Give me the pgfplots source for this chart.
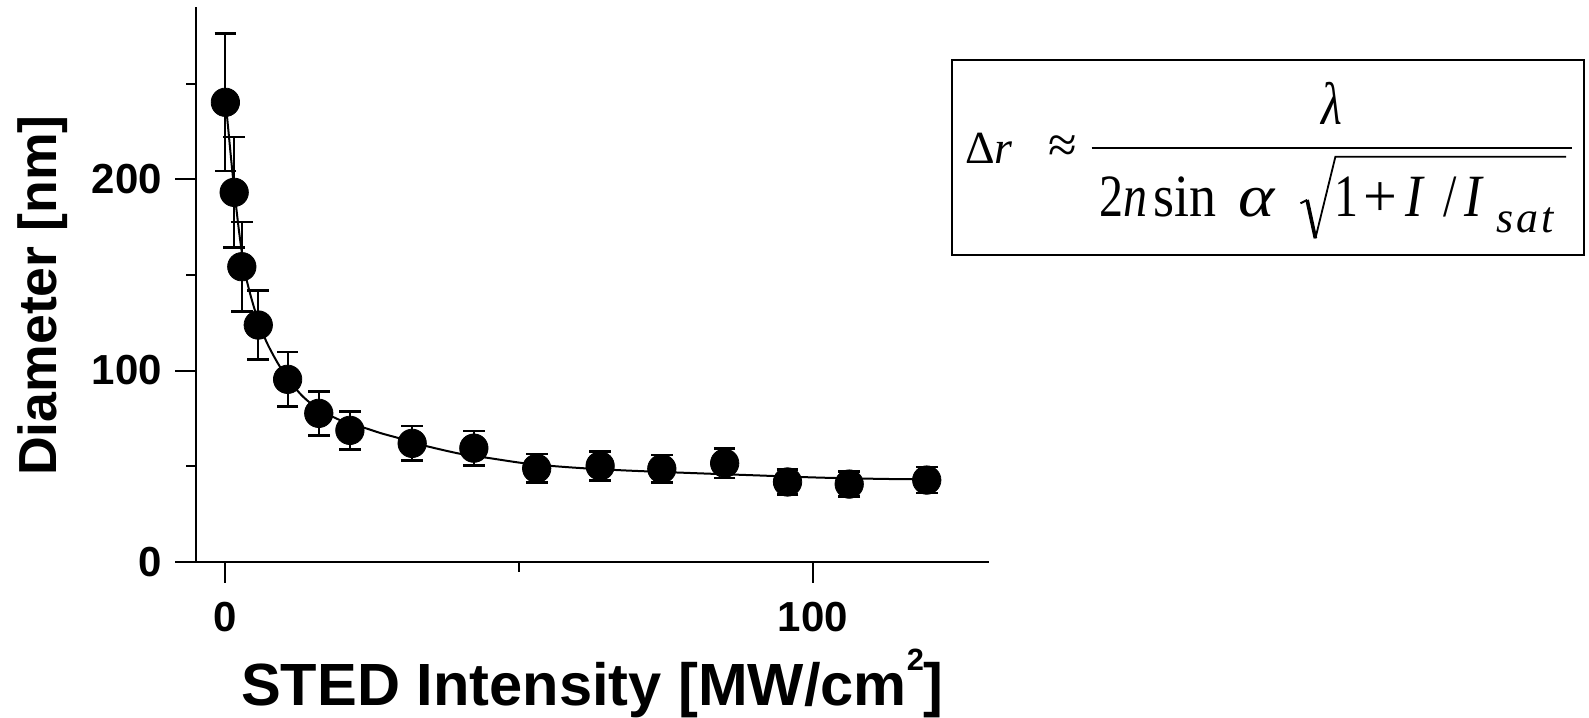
\documentclass[border=0pt]{standalone}
\usepackage{fontspec}
\setmainfont{Liberation Sans}
\newfontfamily\tms{Liberation Serif}
\usepackage{pgfplots}
\pgfplotsset{compat=1.18}
\newcommand\dn[2][0.8]{\scalebox{#1}[1]{\tms\fontsize{30}{30}\selectfont #2}}
\begin{document}
\begin{tikzpicture}
\useasboundingbox (0,0) rectangle (794.5pt,358.5pt);
\begin{axis}[
  at={(98pt,77.65pt)}, anchor=south west,
  scale only axis, width=396.5pt, height=277.2pt,
  xmin=-5, xmax=130, ymin=0, ymax=290,
  axis x line=bottom, axis y line=left,
  axis line style={-, line width=1pt},
  xtick={0,100}, minor xtick={50},
  ytick={0,100,200}, minor ytick={50,150,250},
  tick align=outside,
  major tick length=10.5pt, minor tick length=5pt,
  every tick/.style={black, line width=1pt},
  /pgf/number format/assume math mode=true,
  tick label style={font=\fontsize{21}{21}\selectfont\bfseries},
  xticklabel style={yshift=-6pt},
  yticklabel style={xshift=-3pt},
  every axis x label/.style={at={(axis description cs:0.5,-0.2585)}, anchor=base, inner sep=0pt, font=\fontsize{29.8}{29.8}\selectfont\bfseries},
  every axis y label/.style={at={(axis description cs:-0.1757,0.48)}, anchor=base, rotate=90, inner sep=0pt, font=\fontsize{26.8}{26.8}\selectfont\bfseries},
  xlabel={STED Intensity [MW/cm\raisebox{17.5pt}{\fontsize{15.4}{15.4}\selectfont 2}]},
  ylabel={Diameter [nm]},
  clip=false,
]
\addplot[no marks, black, line width=1pt, smooth] coordinates {
(0,242) (0.5,226) (1,210) (1.5,195) (2.2,176) (2.8,162) (3.5,149) (4.5,137)
(5.6,126) (7,115) (8.8,104.5) (10.6,96) (13,87) (15.9,79.5) (17.8,76.5)
(20.5,72.8) (23.4,70.3) (26.5,67.2) (29.7,64.5) (34.2,60.5) (40.2,56.3)
(44.7,54.3) (50.6,51.6) (55.5,50.1) (61.4,48.8) (69,47.6) (80,46.3)
(90,45.2) (101,44) (112,43.3) (119.4,43.1)
};
\addplot[only marks, mark=*, mark size=7.1pt, black,
  error bars/.cd, y dir=both, y explicit, error mark=|,
  error bar style={line width=1pt, black},
  error mark options={line width=1.3pt, mark size=5.4pt, black}]
coordinates {
(0,240.3) +- (0,36)
(1.5,193.2) +- (0,29)
(2.8,154.3) +- (0,23.3)
(5.6,123.8) +- (0,18)
(10.6,95.4) +- (0,14.2)
(15.9,77.6) +- (0,11.5)
(21.2,68.7) +- (0,10)
(31.8,61.9) +- (0,9)
(42.3,59.4) +- (0,9)
(53.0,48.8) +- (0,7.5)
(63.8,50.1) +- (0,7.7)
(74.3,48.6) +- (0,7.3)
(85.0,51.5) +- (0,7.8)
(95.7,41.7) +- (0,6.5)
(106.2,40.6) +- (0,6.6)
(119.4,42.7) +- (0,6.8)
};
\end{axis}
% formula box
\draw[line width=1pt] (475.85pt,231pt) rectangle (791.75pt,328.5pt);
\node[anchor=base west, inner sep=0pt] at (482.5pt,276.85pt) {\tms\fontsize{23}{23}\selectfont Δ\textit{r}};
\node[anchor=base west, inner sep=0pt] at (524pt,277.3pt) {\tms\fontsize{26}{26}\selectfont ≈};
\draw[line width=1.1pt] (545.85pt,284.35pt) -- (786.15pt,284.35pt);
\node[anchor=base, inner sep=0pt] at (666pt,296pt) {\dn{\itshape λ}};
\node[anchor=base west, inner sep=0pt] at (549.3pt,250pt) {\dn{2\textit{n}}};
\node[anchor=base west, inner sep=0pt] at (576.5pt,250pt) {\dn[0.9]{sin}};
\node[anchor=base west, inner sep=0pt] at (619pt,250pt) {\dn[1.15]{\itshape α}};
\node[anchor=base west, inner sep=0pt] at (667.2pt,250pt) {\dn{1}};
\node[anchor=base west, inner sep=0pt] at (681.5pt,250pt) {\dn[1]{+}};
\node[anchor=base west, inner sep=0pt] at (702.7pt,250pt) {\dn[0.88]{\itshape I}};
\node[anchor=base west, inner sep=0pt] at (721.7pt,250pt) {\dn{/}};
\node[anchor=base west, inner sep=0pt] at (732.2pt,250pt) {\dn[0.88]{\itshape I}};
\node[anchor=base west, inner sep=0pt] at (748pt,242pt) {\tms\fontsize{22}{22}\selectfont\itshape s\kern1.5pt a\kern1.5pt t};
\draw[line width=1pt, line join=miter] (650.2pt,256.85pt) -- (653.55pt,258.5pt);
\draw[line width=1.8pt] (653.55pt,258.5pt) -- (657.7pt,239.35pt);
\draw[line width=0.9pt, line join=miter] (657.7pt,239.35pt) -- (667.7pt,280.15pt) -- (783pt,280.15pt);
\end{tikzpicture}
\end{document}
